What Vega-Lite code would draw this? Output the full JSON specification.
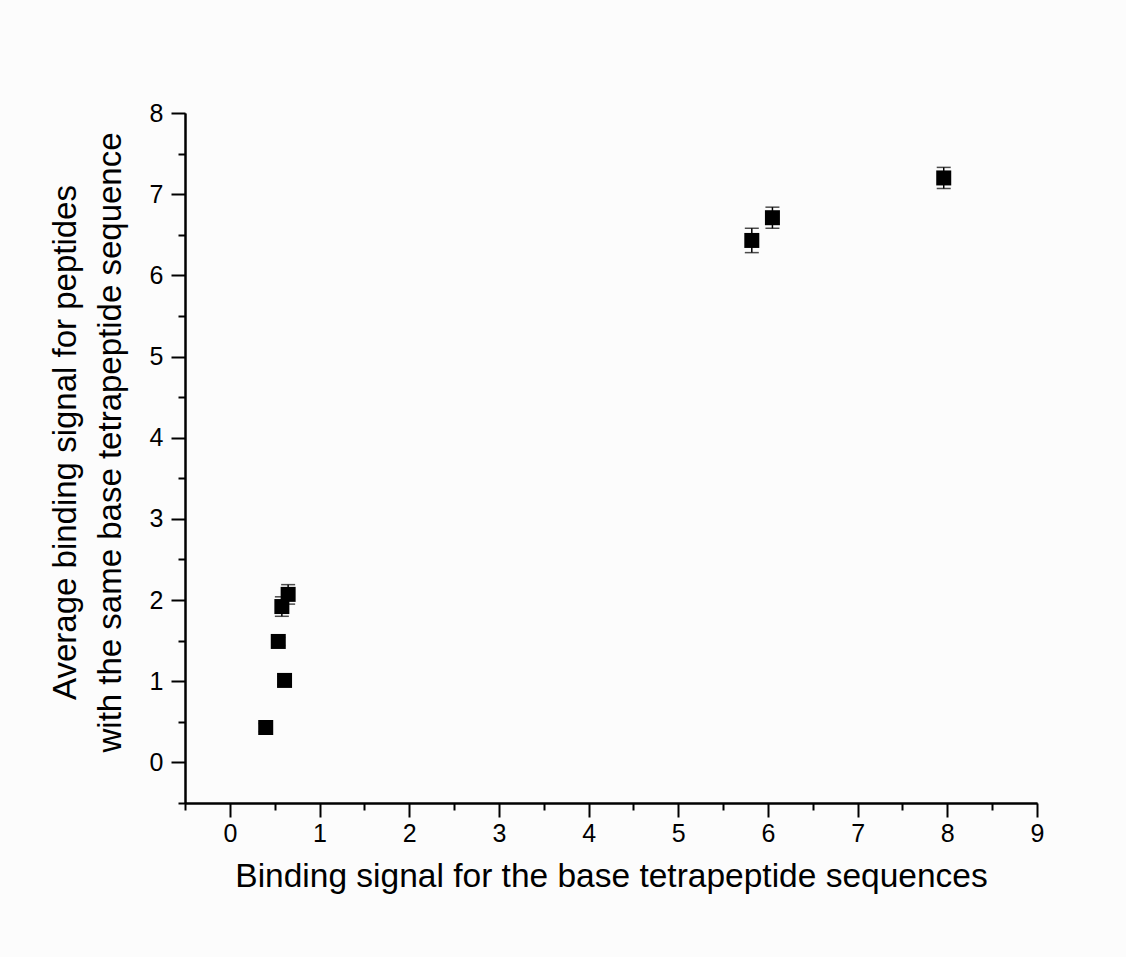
{
  "$schema": "https://vega.github.io/schema/vega-lite/v6.json",
  "autosize": "none",
  "width": 852,
  "height": 690,
  "padding": {"left": 185, "top": 113, "right": 89, "bottom": 154},
  "background": "#fcfcfc",
  "config": {
    "view": {"stroke": null},
    "font": "Liberation Sans",
    "axis": {
      "grid": false,
      "domainColor": "black", "domainWidth": 2,
      "tickColor": "black", "tickWidth": 2,
      "labelFontSize": 25, "labelColor": "black", "labelFlush": false, "labelOverlap": false,
      "titleFontWeight": "normal", "titleColor": "black"
    }
  },
  "data": {"values": [
    {"x": 0.40, "y": 0.43, "err": 0.05},
    {"x": 0.61, "y": 1.01, "err": 0.05},
    {"x": 0.54, "y": 1.49, "err": 0.05},
    {"x": 0.58, "y": 1.92, "err": 0.12},
    {"x": 0.65, "y": 2.07, "err": 0.12},
    {"x": 5.82, "y": 6.43, "err": 0.15},
    {"x": 6.05, "y": 6.71, "err": 0.13},
    {"x": 7.96, "y": 7.20, "err": 0.13}
  ]},
  "transform": [
    {"calculate": "datum.y - datum.err", "as": "lo"},
    {"calculate": "datum.y + datum.err", "as": "hi"}
  ],
  "resolve": {"axis": {"x": "independent", "y": "independent"}},
  "layer": [
    {
      "mark": {"type": "errorbar", "ticks": {"size": 14, "thickness": 1.5, "color": "black"}, "thickness": 1.5, "color": "black"},
      "encoding": {
        "x": {"field": "x", "type": "quantitative",
          "scale": {"domain": [-0.5, 9], "nice": false, "zero": false},
          "axis": {
            "orient": "bottom", "title": null, "labels": false,
            "values": [-0.5, 0.5, 1.5, 2.5, 3.5, 4.5, 5.5, 6.5, 7.5, 8.5],
            "tickSize": 7
          }},
        "y": {"field": "lo", "type": "quantitative",
          "scale": {"domain": [-0.5, 8], "nice": false, "zero": false},
          "axis": {
            "orient": "left", "title": null, "labels": false,
            "values": [-0.5, 0.5, 1.5, 2.5, 3.5, 4.5, 5.5, 6.5, 7.5],
            "tickSize": 7
          }},
        "y2": {"field": "hi"}
      }
    },
    {
      "mark": {"type": "square", "size": 225, "color": "black", "opacity": 1},
      "encoding": {
        "x": {"field": "x", "type": "quantitative",
          "scale": {"domain": [-0.5, 9], "nice": false, "zero": false},
          "axis": {
            "orient": "bottom",
            "title": "Binding signal for the base tetrapeptide sequences",
            "values": [0, 1, 2, 3, 4, 5, 6, 7, 8, 9],
            "format": "d",
            "tickSize": 14,
            "labelPadding": 4, "titlePadding": 14, "titleFontSize": 33.5
          }},
        "y": {"field": "y", "type": "quantitative",
          "scale": {"domain": [-0.5, 8], "nice": false, "zero": false},
          "axis": {
            "orient": "left",
            "title": ["Average binding signal for peptides", "with the same base tetrapeptide sequence"],
            "values": [0, 1, 2, 3, 4, 5, 6, 7, 8],
            "format": "d",
            "tickSize": 14,
            "labelPadding": 8, "titlePadding": 22, "titleLineHeight": 45, "titleY": 329, "titleFontSize": 33
          }}
      }
    }
  ]
}
